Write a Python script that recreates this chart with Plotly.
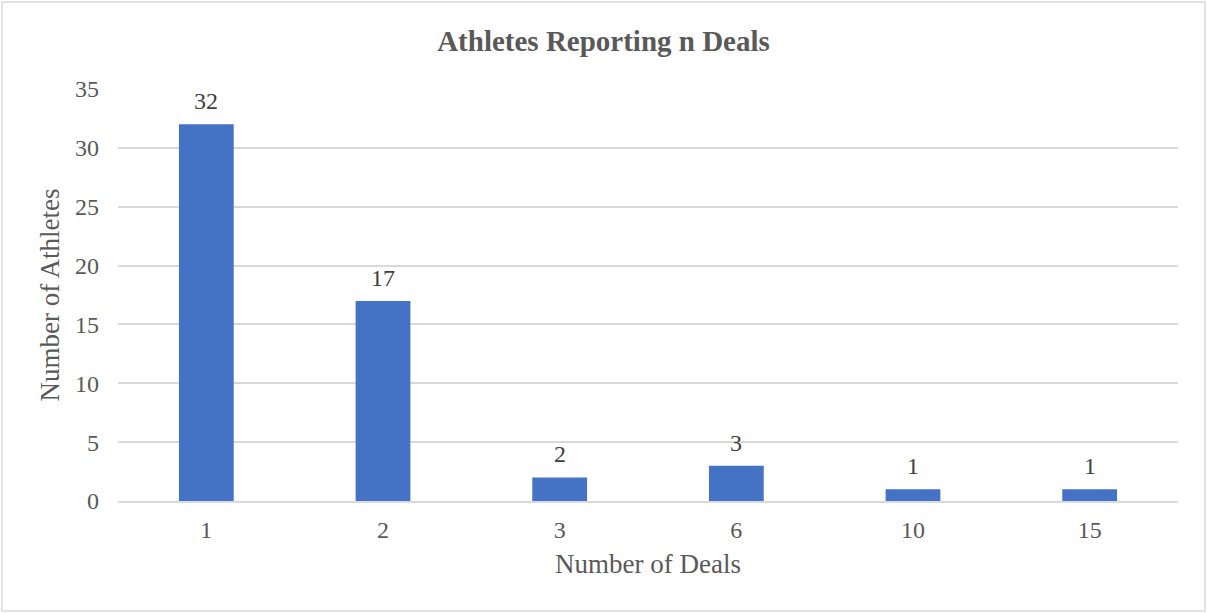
import plotly.graph_objects as go

categories = ["1", "2", "3", "6", "10", "15"]
athletes = [32, 17, 2, 3, 1, 1]
y_ticks = [0, 5, 10, 15, 20, 25, 30, 35]

font_family = "Liberation Serif, Times New Roman, serif"
text_color = "#595959"

fig = go.Figure(go.Bar(
    x=categories,
    y=athletes,
    marker=dict(color="#4472C4", line=dict(width=0)),
    hoverinfo="x+y",
))

# category axis: annotation x is the category index
for i, v in enumerate(athletes):
    fig.add_annotation(
        x=i, y=v, text=str(v), showarrow=False,
        xref="x", yref="y",
        yanchor="bottom", yshift=8,
        font=dict(family=font_family, size=24, color="#404040"),
    )

fig.update_layout(
    width=1207,
    height=613,
    margin=dict(l=118, r=29, t=89, b=112),
    paper_bgcolor="white",
    plot_bgcolor="white",
    bargap=0.69,
    showlegend=False,
    title=dict(
        text="<b>Athletes Reporting n Deals</b>",
        x=0.5, xanchor="center",
        y=1 - 41 / 613, yanchor="middle",
        font=dict(family=font_family, size=29, color=text_color),
    ),
    font=dict(family=font_family, color=text_color),
    shapes=[dict(
        type="rect", xref="paper", yref="paper",
        x0=-116 / 1060, x1=1 + 27 / 1060,
        y0=-110 / 412, y1=1 + 87 / 412,
        line=dict(color="#d9d9d9", width=1.5),
        fillcolor="rgba(0,0,0,0)",
    )],
)

fig.update_xaxes(
    type="category",
    range=[-0.5, len(categories) - 0.5],
    title=dict(text="Number of Deals", font=dict(family=font_family, size=27, color=text_color), standoff=13),
    tickfont=dict(family=font_family, size=24, color=text_color),
    showgrid=False,
    showline=True,
    linecolor="#d9d9d9",
    linewidth=1.5,
    ticks="",
    ticklabelstandoff=6,
)

fig.update_yaxes(
    range=[0, 35],
    tickvals=y_ticks,
    title=dict(text="Number of Athletes", font=dict(family=font_family, size=27, color=text_color), standoff=7),
    tickfont=dict(family=font_family, size=24, color=text_color),
    showgrid=True,
    gridcolor="#d9d9d9",
    gridwidth=1.5,
    zeroline=False,
    showline=False,
    ticks="",
    ticklabelstandoff=18,
)

fig.write_html("out.html")
